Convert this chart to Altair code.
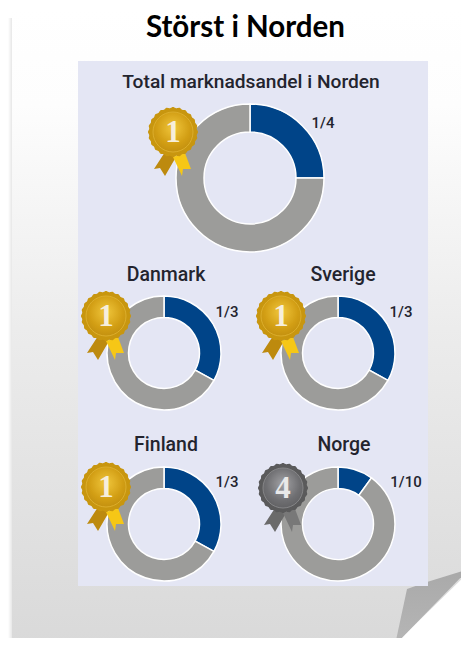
import math
import altair as alt
import pandas as pd

# ---- values
names = ["Total marknadsandel i Norden", "Danmark", "Sverige", "Finland", "Norge"]
shares = [0.25, 0.33, 0.33, 0.33, 0.10]
fractions = ["1/4", "1/3", "1/3", "1/3", "1/10"]
ranks = [1, 1, 1, 1, 4]
heading = "Störst i Norden"

# ---- layout (reference pixel coordinates)
centers = [(250, 178), (164, 353), (338, 353), (164, 524), (338, 524)]
outer = [74, 57, 57, 57, 57]
inner = [46, 35.5, 35.5, 35.5, 35.5]
name_pos = [(251, 88), (166, 281), (343, 281), (166, 451), (344, 451)]
frac_pos = [(323, 128), (227, 317), (401, 317), (227, 487), (406, 487)]
medal_pos = [(173, 132), (106, 316), (281, 316), (106, 487), (283, 488)]

BLUE, GREY = "#004488", "#9c9c9a"
TEXT = "#23242e"
PANEL = "#e4e6f4"
FONT = "Roboto"
one = pd.DataFrame({"a": [0]})


def X(v):
    return alt.value(v - 8)


def Y(v):
    return alt.value(v - 8)


def grad(stops, x1=0, y1=0, x2=0, y2=1):
    return alt.Gradient(gradient="linear", x1=x1, y1=y1, x2=x2, y2=y2,
                        stops=[alt.GradientStop(color=c, offset=o) for o, c in stops])


def rad(stops):
    return alt.Gradient(gradient="radial", x1=0.5, y1=0.4, x2=0.5, y2=0.4, r1=0, r2=0.75,
                        stops=[alt.GradientStop(color=c, offset=o) for o, c in stops])


def rect(x0, x1, y0, y1, fill):
    return alt.Chart(one).mark_rect(fill=fill, stroke=None).encode(
        x=X(x0), x2=X(x1), y=Y(y0), y2=Y(y1))


UNIT = 40.0  # px covered by one path unit
SIZE = (2 * UNIT) ** 2


def poly(points):
    return "M" + " L".join(f"{a / UNIT:.4f},{b / UNIT:.4f}" for a, b in points) + " Z"


def shape(path, x, y, fill, k=1.0):
    return alt.Chart(one).mark_point(shape=path, filled=True, fill=fill, opacity=1,
                                     stroke=None, size=SIZE * k * k).encode(x=X(x), y=Y(y))


layers = []

# paper and its outer shadow
layers.append(rect(8, 12, 18, 646, grad([(0, "#00000000"), (1, "#00000018")], x2=1, y2=0)))
layers.append(rect(12, 469, 10, 646, grad([(0, "#ffffff"), (0.15, "#fdfdfd"), (0.5, "#ececec"),
                                          (1, "#d9d9d9")])))

# folded corner
corner_w = poly([(40, -38), (40, 40), (-40, 40)])
layers.append(shape(corner_w, 432, 607, "#ffffff"))
fold = poly([(37, -38), (-37, 38), (-25, -18), (-5, -25)])
layers.append(shape(fold, 432, 607, grad([(0, "#a9a9a9"), (1, "#b6b6b6")])))

# panel
layers.append(rect(78, 428, 61, 586, PANEL))

# heading
layers.append(alt.Chart(pd.DataFrame({"t": [heading]})).mark_text(
    font="Lato", fontWeight="bold", fontSize=29.5, color="#000000", align="center",
    baseline="alphabetic").encode(text="t:N", x=X(245.5), y=Y(37)))

# medal shapes
scallop = poly([((24.5 + 0.5 * math.cos(24 * i * math.pi / 120)) * math.sin(i * math.pi / 120),
                 (24.5 + 0.5 * math.cos(24 * i * math.pi / 120)) * math.cos(i * math.pi / 120))
                for i in range(240)])
ribbon_l = poly([(-8, 20), (3, 25), (-8, 44), (-13, 36), (-19, 37)])
ribbon_r = poly([(0, 25), (12, 21), (18, 37), (10, 37), (9, 44)])
styles = {
    1: dict(rim="#c8960f", ring="#dcae2c", disc=[(0, "#f0c63c"), (0.55, "#d29e14"), (1, "#b8860c")],
            left="#bd8a0e", right="#f6c716", num="#f6eedc"),
    4: dict(rim="#5a5a5b", ring="#858587", disc=[(0, "#a2a2a5"), (0.55, "#6f6f72"), (1, "#58585a")],
            left="#6a6a6a", right="#787878", num="#e9e9e9"),
}

for i, name in enumerate(names):
    cx, cy = centers[i]
    df = pd.DataFrame({"part": ["share", "rest"], "value": [shares[i], 1 - shares[i]],
                       "ord": [0, 1]})
    layers.append(alt.Chart(df).mark_arc(
        outerRadius=outer[i], innerRadius=inner[i], stroke="#ffffff", strokeWidth=1.5).encode(
        theta=alt.Theta("value:Q", stack=True, scale=alt.Scale(domain=[0, 1])),
        order=alt.Order("ord:O"),
        color=alt.Color("part:N", legend=None,
                        scale=alt.Scale(domain=["share", "rest"], range=[BLUE, GREY])),
        x=X(cx), y=Y(cy)))

    size = 19.2 if i == 0 else 19.5
    nx, ny = name_pos[i]
    layers.append(alt.Chart(pd.DataFrame({"t": [name]})).mark_text(
        font=FONT, fontWeight=500, fontSize=size, color=TEXT, align="center",
        baseline="alphabetic").encode(text="t:N", x=X(nx), y=Y(ny)))
    fx, fy = frac_pos[i]
    layers.append(alt.Chart(pd.DataFrame({"t": [fractions[i]]})).mark_text(
        font=FONT, fontWeight=500, fontSize=15, color=TEXT, align="center",
        baseline="alphabetic").encode(text="t:N", x=X(fx), y=Y(fy)))

    mx, my = medal_pos[i]
    st = styles[ranks[i]]
    layers.append(shape(ribbon_l, mx, my, st["left"]))
    layers.append(shape(ribbon_r, mx, my, st["right"]))
    layers.append(shape(scallop, mx, my, st["rim"]))
    layers.append(alt.Chart(one).mark_point(
        shape="circle", filled=True, fill=rad(st["disc"]), opacity=1, stroke=st["ring"],
        strokeWidth=1, size=(2 * 20) ** 2).encode(x=X(mx), y=Y(my)))
    layers.append(alt.Chart(pd.DataFrame({"t": [str(ranks[i])]})).mark_text(
        font="Liberation Serif", fontWeight="bold", fontSize=31, color=st["num"], align="center",
        baseline="alphabetic").encode(text="t:N", x=X(mx), y=Y(my + 10)))

chart = alt.layer(*layers).properties(
    width=453, height=630, padding=0, autosize=alt.AutoSizeParams(type="none")
).configure_view(stroke=None)
chart.save("out.html", embed_options={"renderer": "svg", "actions": False})
